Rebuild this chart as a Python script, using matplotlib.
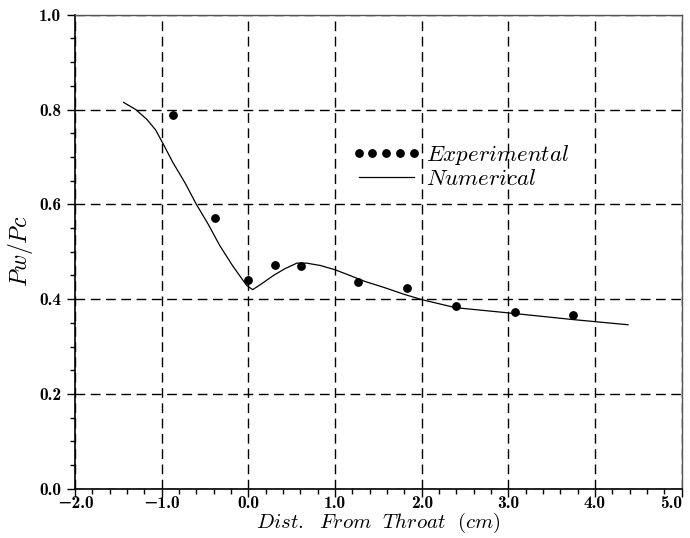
import matplotlib
matplotlib.use("Agg")
import matplotlib.pyplot as plt
from matplotlib.ticker import MultipleLocator, FuncFormatter

plt.rcParams['mathtext.fontset'] = 'cm'

# Experimental data
exp_x = [-0.87, -0.385, 0.0, 0.31, 0.61, 1.26, 1.83, 2.39, 3.08, 3.74]
exp_y = [0.788, 0.571, 0.441, 0.473, 0.469, 0.436, 0.423, 0.385, 0.372, 0.366]

# Numerical curve
num_x = [-1.44, -1.30, -1.17, -1.07, -0.99, -0.87, -0.73, -0.60, -0.46, -0.33, -0.18,
         -0.02, 0.05, 0.15, 0.29, 0.42, 0.56, 0.67, 0.83, 1.00, 1.17, 1.35, 1.56,
         1.80, 2.00, 2.39, 3.00, 3.74, 4.38]
num_y = [0.815, 0.800, 0.779, 0.757, 0.730, 0.688, 0.645, 0.600, 0.557, 0.513, 0.470,
         0.429, 0.420, 0.432, 0.450, 0.464, 0.476, 0.476, 0.471, 0.462, 0.450, 0.437, 0.425,
         0.410, 0.399, 0.382, 0.371, 0.357, 0.346]

x_min, x_max = -2.0, 5.0
y_min, y_max = 0.0, 1.0

fig = plt.figure(figsize=(6.9, 5.38), dpi=100)
ax = fig.add_axes([0.1087, 0.0915, 0.8793, 0.8812])

ax.plot(num_x, num_y, color='black', lw=0.9, label=r'$\mathit{Numerical}$', zorder=3)
ax.plot(exp_x, exp_y, linestyle='none', marker='o', ms=5.3, color='black',
        label=r'$\mathit{Experimental}$', zorder=4)

ax.set_xlim(x_min, x_max)
ax.set_ylim(y_min, y_max)
ax.xaxis.set_major_locator(MultipleLocator(1.0))
ax.xaxis.set_minor_locator(MultipleLocator(0.2))
ax.yaxis.set_major_locator(MultipleLocator(0.2))
ax.yaxis.set_minor_locator(MultipleLocator(0.05))

def tickfmt(v, p):
    if abs(v) < 1e-9:
        v = 0.0
    s = '%.1f' % abs(v)
    return ('\u2212' + s) if v < 0 else s

fmt = FuncFormatter(tickfmt)
ax.xaxis.set_major_formatter(fmt)
ax.yaxis.set_major_formatter(fmt)
ax.grid(True, which='major', color='black', linestyle=(0, (7, 4)), lw=1.0)
ax.tick_params(axis='both', which='major', direction='out', length=6, width=1,
               labelsize=12.5, color='black')
ax.tick_params(axis='both', which='minor', direction='out', length=3.5, width=1, color='black')
ax.tick_params(axis='x', pad=-1)
ax.tick_params(axis='y', pad=4)

for s in ['left', 'bottom']:
    ax.spines[s].set_color('black')
    ax.spines[s].set_linewidth(1.2)
for s in ['top', 'right']:
    ax.spines[s].set_color('#555555')
    ax.spines[s].set_linewidth(1.0)

ax.set_xlabel(r'$\mathit{Dist.\ \ From\ \ Throat\ \ (cm)}$', fontsize=15, labelpad=0)
ax.set_ylabel(r'$\mathit{Pw/Pc}$', fontsize=17, labelpad=3)

handles, labels = ax.get_legend_handles_labels()
leg = ax.legend(handles[::-1], labels[::-1], loc='upper left',
                bbox_to_anchor=(0.456, 0.729), frameon=False, numpoints=5,
                fontsize=16.5, handlelength=3.0, handletextpad=0.25,
                labelspacing=0.0, borderpad=0, borderaxespad=0)

fig.canvas.draw()
for lab in ax.get_xticklabels() + ax.get_yticklabels():
    lab.set_family(['cmb10', 'DejaVu Sans'])
for tick in ax.xaxis.get_major_ticks():
    if abs(tick.get_loc() - x_max) < 1e-9:
        tick.label1.set_horizontalalignment('right')
        tick.label1.set_x(x_max)

fig.savefig('out.png', dpi=100)
